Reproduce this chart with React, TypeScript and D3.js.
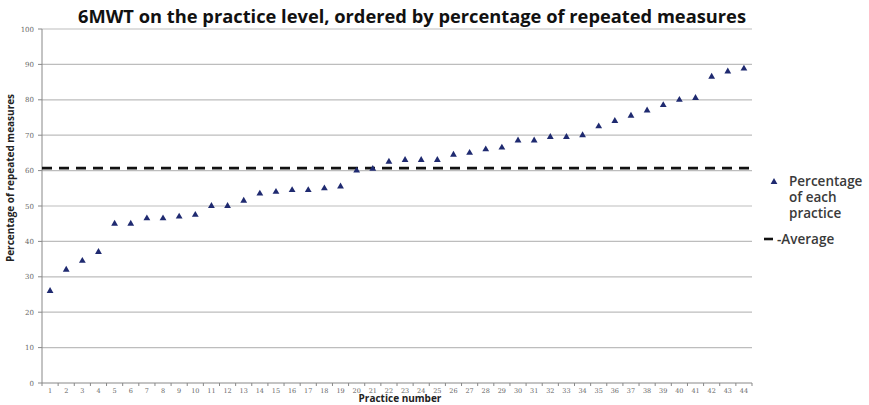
import React from "react";
import * as d3 from "d3";

const practices: number[] = Array.from({ length: 44 }, (_, i) => i + 1);
const percentages: number[] = [
  26, 32, 34.5, 37, 45, 45, 46.5, 46.5, 47, 47.5,
  50, 50, 51.5, 53.5, 54, 54.5, 54.5, 55, 55.5, 60,
  60.5, 62.5, 63, 63, 63, 64.5, 65, 66, 66.5, 68.5,
  68.5, 69.5, 69.5, 70, 72.5, 74, 75.5, 77, 78.5, 80,
  80.5, 86.5, 88, 88.8,
];
const averageValue = 60.7;
const yTicks: number[] = [0, 10, 20, 30, 40, 50, 60, 70, 80, 90, 100];
const titleText = "6MWT on the practice level, ordered by percentage of repeated measures";
const yTitle = "Percentage of repeated measures";
const xTitle = "Practice number";
const legendSeries = ["Percentage", "of each", "practice"];
const legendAverage = "-Average";

export default function App() {
  const W = 869, H = 405;
  const left = 42, right = 752, top = 29, bottom = 383;
  const x = d3.scaleBand<number>().domain(practices).range([left, right]).padding(0);
  const y = d3.scaleLinear().domain([0, 100]).range([bottom, top]);
  const tri = d3.symbol().type(d3.symbolTriangle).size(20)() as string;
  const tickFont = "'DejaVu Serif', 'Liberation Serif', serif";
  const uiFont = "'Open Sans', 'Noto Sans', sans-serif";
  const bandEdges = practices.map((p) => x(p)!).concat([right]);

  return (
    <svg width={W} height={H} style={{ position: "absolute", left: 0, top: 0, background: "#fff" }}>
      <rect x={0} y={0} width={W} height={H} fill="#fff" />
      <text x={412} y={23} textAnchor="middle" fontFamily={uiFont} fontWeight="bold" fontSize={18}
        fill="#111" textLength={668} lengthAdjust="spacingAndGlyphs">{titleText}</text>

      {yTicks.map((t) => (
        <g key={t}>
          {t > 0 && (
            <line x1={left} x2={right} y1={y(t)} y2={y(t)} stroke="#bdbdbd" strokeWidth={1.2} />
          )}
          <line x1={left - 4} x2={left} y1={y(t)} y2={y(t)} stroke="#888" strokeWidth={1} />
          <text x={left - 8} y={y(t) + 2.5} textAnchor="end" fontFamily={tickFont} fontSize={7} fill="#666">{t}</text>
        </g>
      ))}

      <line x1={left} x2={left} y1={top} y2={bottom} stroke="#888" strokeWidth={1} />
      <line x1={left} x2={right} y1={bottom} y2={bottom} stroke="#888" strokeWidth={1} />
      {bandEdges.map((e, i) => (
        <line key={i} x1={e} x2={e} y1={bottom} y2={bottom + 3} stroke="#888" strokeWidth={1} />
      ))}
      {practices.map((p) => (
        <text key={p} x={x(p)! + x.bandwidth() / 2} y={bottom + 9.5} textAnchor="middle"
          fontFamily={tickFont} fontSize={6.5} fill="#666">{p}</text>
      ))}

      <line x1={left} x2={right} y1={y(averageValue)} y2={y(averageValue)} stroke="#111"
        strokeWidth={2.6} strokeDasharray="10,7" />

      {practices.map((p, i) => (
        <path key={p} d={tri} transform={`translate(${x(p)! + x.bandwidth() / 2},${y(percentages[i])})`}
          fill="#1f2a70" />
      ))}

      <text x={400} y={402} textAnchor="middle" fontFamily={uiFont} fontWeight="bold" fontSize={10} fill="#222">{xTitle}</text>
      <text transform={`translate(14,178) rotate(-90)`} textAnchor="middle" fontFamily={uiFont}
        fontWeight="bold" fontSize={10} fill="#222">{yTitle}</text>

      <path d={tri} transform="translate(774,182)" fill="#1f2a70" />
      {legendSeries.map((s, i) => (
        <text key={s} x={789} y={186 + i * 16} fontFamily={uiFont} fontWeight={600} fontSize={13.5} fill="#3a3a3a">{s}</text>
      ))}
      <line x1={764} x2={773} y1={239} y2={239} stroke="#111" strokeWidth={2.6} />
      <text x={777} y={244} fontFamily={uiFont} fontWeight={600} fontSize={13.5} fill="#3a3a3a">{legendAverage}</text>
    </svg>
  );
}
